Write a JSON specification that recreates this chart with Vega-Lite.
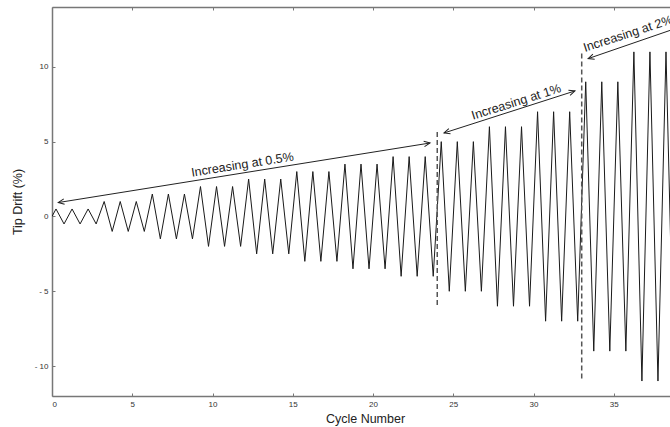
{
  "$schema": "https://vega.github.io/schema/vega-lite/v6.json",
  "width": 618,
  "height": 389,
  "autosize": {"type": "none"},
  "padding": {"left": 52, "top": 7, "right": 0, "bottom": 31},
  "background": "white",
  "config": {
    "view": {"stroke": null},
    "font": "Liberation Sans",
    "axis": {
      "domainColor": "#777",
      "domainWidth": 1.5,
      "tickColor": "#777",
      "tickSize": -3,
      "tickWidth": 1,
      "grid": false,
      "labelFont": "Liberation Sans",
      "labelFontSize": 8,
      "labelColor": "#333",
      "titleFont": "Liberation Sans",
      "titleFontSize": 12.5,
      "titleFontWeight": "normal",
      "titleColor": "#222"
    }
  },
  "datasets": {
    "series": [
      {"cycle": 0, "drift": 0},
      {"cycle": 0.25, "drift": 0.5}, {"cycle": 0.75, "drift": -0.5},
      {"cycle": 1.25, "drift": 0.5}, {"cycle": 1.75, "drift": -0.5},
      {"cycle": 2.25, "drift": 0.5}, {"cycle": 2.75, "drift": -0.5},
      {"cycle": 3.25, "drift": 1}, {"cycle": 3.75, "drift": -1},
      {"cycle": 4.25, "drift": 1}, {"cycle": 4.75, "drift": -1},
      {"cycle": 5.25, "drift": 1}, {"cycle": 5.75, "drift": -1},
      {"cycle": 6.25, "drift": 1.5}, {"cycle": 6.75, "drift": -1.5},
      {"cycle": 7.25, "drift": 1.5}, {"cycle": 7.75, "drift": -1.5},
      {"cycle": 8.25, "drift": 1.5}, {"cycle": 8.75, "drift": -1.5},
      {"cycle": 9.25, "drift": 2}, {"cycle": 9.75, "drift": -2},
      {"cycle": 10.25, "drift": 2}, {"cycle": 10.75, "drift": -2},
      {"cycle": 11.25, "drift": 2}, {"cycle": 11.75, "drift": -2},
      {"cycle": 12.25, "drift": 2.5}, {"cycle": 12.75, "drift": -2.5},
      {"cycle": 13.25, "drift": 2.5}, {"cycle": 13.75, "drift": -2.5},
      {"cycle": 14.25, "drift": 2.5}, {"cycle": 14.75, "drift": -2.5},
      {"cycle": 15.25, "drift": 3}, {"cycle": 15.75, "drift": -3},
      {"cycle": 16.25, "drift": 3}, {"cycle": 16.75, "drift": -3},
      {"cycle": 17.25, "drift": 3}, {"cycle": 17.75, "drift": -3},
      {"cycle": 18.25, "drift": 3.5}, {"cycle": 18.75, "drift": -3.5},
      {"cycle": 19.25, "drift": 3.5}, {"cycle": 19.75, "drift": -3.5},
      {"cycle": 20.25, "drift": 3.5}, {"cycle": 20.75, "drift": -3.5},
      {"cycle": 21.25, "drift": 4}, {"cycle": 21.75, "drift": -4},
      {"cycle": 22.25, "drift": 4}, {"cycle": 22.75, "drift": -4},
      {"cycle": 23.25, "drift": 4}, {"cycle": 23.75, "drift": -4},
      {"cycle": 24.25, "drift": 5}, {"cycle": 24.75, "drift": -5},
      {"cycle": 25.25, "drift": 5}, {"cycle": 25.75, "drift": -5},
      {"cycle": 26.25, "drift": 5}, {"cycle": 26.75, "drift": -5},
      {"cycle": 27.25, "drift": 6}, {"cycle": 27.75, "drift": -6},
      {"cycle": 28.25, "drift": 6}, {"cycle": 28.75, "drift": -6},
      {"cycle": 29.25, "drift": 6}, {"cycle": 29.75, "drift": -6},
      {"cycle": 30.25, "drift": 7}, {"cycle": 30.75, "drift": -7},
      {"cycle": 31.25, "drift": 7}, {"cycle": 31.75, "drift": -7},
      {"cycle": 32.25, "drift": 7}, {"cycle": 32.75, "drift": -7},
      {"cycle": 33.25, "drift": 9}, {"cycle": 33.75, "drift": -9},
      {"cycle": 34.25, "drift": 9}, {"cycle": 34.75, "drift": -9},
      {"cycle": 35.25, "drift": 9}, {"cycle": 35.75, "drift": -9},
      {"cycle": 36.25, "drift": 11}, {"cycle": 36.75, "drift": -11},
      {"cycle": 37.25, "drift": 11}, {"cycle": 37.75, "drift": -11},
      {"cycle": 38.25, "drift": 11}, {"cycle": 38.75, "drift": -11},
      {"cycle": 39, "drift": 0}
    ],
    "dividers": [
      {"cycle": 24, "top": 5.65, "bottom": -6.05},
      {"cycle": 33, "top": 10.9, "bottom": -11.0}
    ],
    "arrows": [
      {"rate": "0.5%", "x1": 0.39, "y1": 0.93, "x2": 23.55, "y2": 4.91},
      {"rate": "1%", "x1": 24.42, "y1": 5.58, "x2": 32.58, "y2": 8.39},
      {"rate": "2%", "x1": 33.4, "y1": 10.55, "x2": 40, "y2": 12.99}
    ],
    "labels": [
      {"rate": "0.5%", "text": "Increasing at 0.5%", "x": 11.9, "y": 3.2},
      {"rate": "1%", "text": "Increasing at 1%", "x": 29.0, "y": 7.4},
      {"rate": "2%", "text": "Increasing at 2%", "x": 35.96, "y": 11.96}
    ]
  },
  "layer": [
    {
      "data": {"name": "series"},
      "mark": {"type": "line", "color": "#1a1a1a", "strokeWidth": 1, "clip": true},
      "encoding": {
        "x": {
          "field": "cycle", "type": "quantitative",
          "scale": {"domain": [0, 38.5], "nice": false, "zero": false},
          "axis": {"orient": "bottom", "values": [0, 5, 10, 15, 20, 25, 30, 35], "title": "Cycle Number", "labelPadding": 7, "titlePadding": 4, "titleX": 313}
        },
        "y": {
          "field": "drift", "type": "quantitative",
          "scale": {"domain": [-12, 14], "nice": false, "zero": false},
          "axis": {"values": [-10, -5, 0, 5, 10], "title": "Tip Drift (%)", "labelPadding": 7, "titlePadding": 10,
            "labelExpr": "datum.value < 0 ? '- ' + abs(datum.value) : datum.label"}
        }
      }
    },
    {
      "data": {"name": "dividers"},
      "mark": {"type": "rule", "color": "#555", "strokeWidth": 1.5, "strokeDash": [5, 3]},
      "encoding": {
        "x": {"field": "cycle", "type": "quantitative",
          "axis": {"orient": "top", "values": [0, 5, 10, 15, 20, 25, 30, 35], "labels": false, "title": null}},
        "y": {"field": "top", "type": "quantitative"},
        "y2": {"field": "bottom"}
      }
    },
    {
      "data": {"name": "arrows"},
      "mark": {"type": "rule", "color": "#222", "strokeWidth": 1, "clip": true},
      "encoding": {
        "x": {"field": "x1", "type": "quantitative", "axis": null},
        "y": {"field": "y1", "type": "quantitative"},
        "x2": {"field": "x2"},
        "y2": {"field": "y2"}
      }
    },
    {
      "data": {"name": "arrows"},
      "transform": [{"filter": "datum.rate == '0.5%'"}],
      "layer": [
        {"mark": {"type": "point", "shape": "M-1,-0.45L0,0L-1,0.45", "size": 144, "filled": false, "stroke": "#222", "strokeWidth": 1, "opacity": 1, "angle": 170.9},
         "encoding": {"x": {"field": "x1", "type": "quantitative", "axis": null}, "y": {"field": "y1", "type": "quantitative"}}},
        {"mark": {"type": "point", "shape": "M-1,-0.45L0,0L-1,0.45", "size": 144, "filled": false, "stroke": "#222", "strokeWidth": 1, "opacity": 1, "angle": -9.1},
         "encoding": {"x": {"field": "x2", "type": "quantitative", "axis": null}, "y": {"field": "y2", "type": "quantitative"}}}
      ]
    },
    {
      "data": {"name": "arrows"},
      "transform": [{"filter": "datum.rate == '1%'"}],
      "layer": [
        {"mark": {"type": "point", "shape": "M-1,-0.45L0,0L-1,0.45", "size": 144, "filled": false, "stroke": "#222", "strokeWidth": 1, "opacity": 1, "angle": 162.2},
         "encoding": {"x": {"field": "x1", "type": "quantitative", "axis": null}, "y": {"field": "y1", "type": "quantitative"}}},
        {"mark": {"type": "point", "shape": "M-1,-0.45L0,0L-1,0.45", "size": 144, "filled": false, "stroke": "#222", "strokeWidth": 1, "opacity": 1, "angle": -17.8},
         "encoding": {"x": {"field": "x2", "type": "quantitative", "axis": null}, "y": {"field": "y2", "type": "quantitative"}}}
      ]
    },
    {
      "data": {"name": "arrows"},
      "transform": [{"filter": "datum.rate == '2%'"}],
      "layer": [
        {"mark": {"type": "point", "shape": "M-1,-0.45L0,0L-1,0.45", "size": 144, "filled": false, "stroke": "#222", "strokeWidth": 1, "opacity": 1, "angle": 161, "clip": true},
         "encoding": {"x": {"field": "x1", "type": "quantitative", "axis": null}, "y": {"field": "y1", "type": "quantitative"}}},
        {"mark": {"type": "point", "shape": "M-1,-0.45L0,0L-1,0.45", "size": 144, "filled": false, "stroke": "#222", "strokeWidth": 1, "opacity": 1, "angle": -19, "clip": true},
         "encoding": {"x": {"field": "x2", "type": "quantitative", "axis": null}, "y": {"field": "y2", "type": "quantitative"}}}
      ]
    },
    {
      "data": {"name": "labels"},
      "transform": [{"filter": "datum.rate == '0.5%'"}],
      "mark": {"type": "text", "font": "Liberation Sans", "fontSize": 12.5, "color": "#222", "align": "center", "baseline": "alphabetic", "angle": -9},
      "encoding": {"x": {"field": "x", "type": "quantitative", "axis": null}, "y": {"field": "y", "type": "quantitative"}, "text": {"field": "text"}}
    },
    {
      "data": {"name": "labels"},
      "transform": [{"filter": "datum.rate == '1%'"}],
      "mark": {"type": "text", "font": "Liberation Sans", "fontSize": 12.5, "color": "#222", "align": "center", "baseline": "alphabetic", "angle": -17.5},
      "encoding": {"x": {"field": "x", "type": "quantitative", "axis": null}, "y": {"field": "y", "type": "quantitative"}, "text": {"field": "text"}}
    },
    {
      "data": {"name": "labels"},
      "transform": [{"filter": "datum.rate == '2%'"}],
      "mark": {"type": "text", "font": "Liberation Sans", "fontSize": 12.5, "color": "#222", "align": "center", "baseline": "alphabetic", "angle": -18},
      "encoding": {"x": {"field": "x", "type": "quantitative", "axis": null}, "y": {"field": "y", "type": "quantitative"}, "text": {"field": "text"}}
    }
  ]
}
